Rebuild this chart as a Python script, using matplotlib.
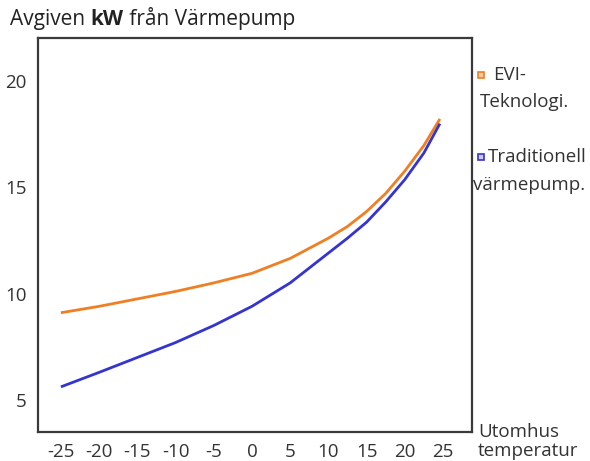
import matplotlib.pyplot as plt

# Utomhustemperatur (°C) och avgiven effekt (kW)
temp = [-25, -20, -15, -10, -5, 0, 5, 10, 12.5, 15, 17.5, 20, 22.5, 24.6]
evi_kw = [9.1, 9.4, 9.75, 10.1, 10.5, 10.95, 11.65, 12.6, 13.15, 13.85, 14.7, 15.75, 16.95, 18.2]
trad_kw = [5.62, 6.3, 7.0, 7.7, 8.5, 9.4, 10.5, 11.9, 12.6, 13.35, 14.3, 15.35, 16.6, 17.98]

x_ticks = [-25, -20, -15, -10, -5, 0, 5, 10, 15, 20, 25]
y_ticks = [5, 10, 15, 20]

orange = "#EF7F22"
blue = "#3434D2"
txt = "#333333"
fs = 13.5

plt.rcParams['font.family'] = ['Open Sans', 'DejaVu Sans']

fig = plt.figure(figsize=(5.9, 4.61), dpi=100)
ax = fig.add_axes([0.0644, 0.0629, 0.7356, 0.8547])

ax.plot(temp, evi_kw, color=orange, lw=2.0, solid_capstyle='butt')
ax.plot(temp, trad_kw, color=blue, lw=2.0, solid_capstyle='butt')

ax.set_xlim(-28.0, 28.8)
ax.set_ylim(3.5, 22.0)
ax.set_xticks(x_ticks)
ax.set_xticklabels([str(t) for t in x_ticks])  # vanligt bindestreck som i originalet
ax.set_yticks(y_ticks)
ax.tick_params(length=0, labelsize=fs, colors=txt, pad=8)
for s in ax.spines.values():
    s.set_color("#3a3a3a")
    s.set_linewidth(1.6)

# Rubrik i tre delar, "kW" i fetstil
renderer = fig.canvas.get_renderer()
x0 = 0.017
for part, weight in [("Avgiven ", "normal"), ("kW", "bold"), (" från Värmepump", "normal")]:
    t = fig.text(x0, 0.935, part, fontsize=15, color="#222222", va="bottom", fontweight=weight)
    bb = t.get_window_extent(renderer)
    x0 += bb.width / fig.bbox.width

# Legend (manuell, radbruten som i originalet)
fig.lines.append(plt.Line2D([0.816], [1 - 75 / 461], transform=fig.transFigure,
                            marker='s', ms=5, mfc="#F6C9A3", mec=orange, mew=1.2))
fig.text(0.836, 1 - 75 / 461, "EVI-", fontsize=fs, color=txt, va="center")
fig.text(0.813, 1 - 102 / 461, "Teknologi.", fontsize=fs, color=txt, va="center")
fig.lines.append(plt.Line2D([0.816], [1 - 157 / 461], transform=fig.transFigure,
                            marker='s', ms=5, mfc="#C9C9F2", mec=blue, mew=1.2))
fig.text(0.827, 1 - 157 / 461, "Traditionell", fontsize=fs, color=txt, va="center")
fig.text(0.802, 1 - 185 / 461, "värmepump.", fontsize=fs, color=txt, va="center")

# Axeltitel x
fig.text(0.81, 1 - 432 / 461, "Utomhus", fontsize=fs, color=txt, va="center")
fig.text(0.81, 1 - 451 / 461, "temperatur", fontsize=fs, color=txt, va="center")

plt.savefig("out.png", dpi=100)
plt.close()
